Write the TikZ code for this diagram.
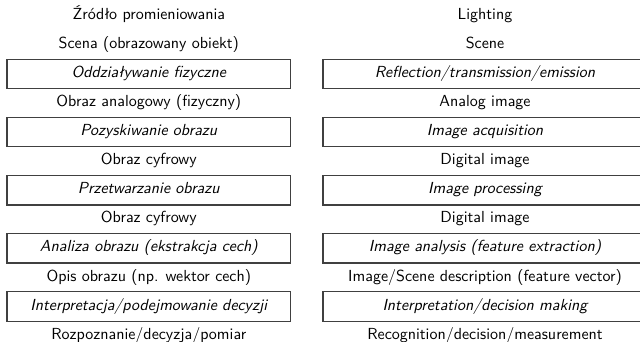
\documentclass[tikz,border=0pt]{standalone}
\usepackage{fontspec}
\begin{document}
\begin{tikzpicture}[x=0.625pt,y=-0.625pt,
  lbl/.style={font=\sffamily, inner sep=0pt, text height=0.7em, text depth=0.25em},
  procbox/.style={draw=black!75, line width=0.7pt, font=\sffamily\itshape, inner sep=0pt,
    minimum height=29.3*0.625pt, text height=0.7em, text depth=0.25em},
  lbox/.style={procbox, minimum width=283.6*0.625pt},
  rbox/.style={procbox, minimum width=324*0.625pt}]
\useasboundingbox (0,0) rectangle (640,342);
\clip (0,0) rectangle (640,342);
% left column
\node[lbl]  (l1)  at (148.8,16.0)  {Źródło promieniowania};
\node[lbl]  (l2)  at (148.8,45.05) {Scena (obrazowany obiekt)};
\node[lbox] (l3)  at (148.8,74.1)  {Oddziaływanie fizyczne};
\node[lbl]  (l4)  at (148.8,103.15){Obraz analogowy (fizyczny)};
\node[lbox] (l5)  at (148.8,132.2) {Pozyskiwanie obrazu};
\node[lbl]  (l6)  at (148.8,161.25){Obraz cyfrowy};
\node[lbox] (l7)  at (148.8,190.3) {Przetwarzanie obrazu};
\node[lbl]  (l8)  at (148.8,219.35){Obraz cyfrowy};
\node[lbox] (l9)  at (148.8,248.4) {Analiza obrazu (ekstrakcja cech)};
\node[lbl]  (l10) at (148.8,277.45){Opis obrazu (np. wektor cech)};
\node[lbox] (l11) at (148.8,306.5) {Interpretacja/podejmowanie decyzji};
\node[lbl]  (l12) at (148.8,335.55){Rozpoznanie/decyzja/pomiar};
% right column
\node[lbl]  (r1)  at (485,16.0)  {Lighting};
\node[lbl]  (r2)  at (485,45.05) {Scene};
\node[rbox] (r3)  at (485,74.1)  {Reflection/transmission/emission};
\node[lbl]  (r4)  at (485,103.15){Analog image};
\node[rbox] (r5)  at (485,132.2) {Image acquisition};
\node[lbl]  (r6)  at (485,161.25){Digital image};
\node[rbox] (r7)  at (485,190.3) {Image processing};
\node[lbl]  (r8)  at (485,219.35){Digital image};
\node[rbox] (r9)  at (485,248.4) {Image analysis (feature extraction)};
\node[lbl]  (r10) at (485,277.45){Image/Scene description (feature vector)};
\node[rbox] (r11) at (485,306.5) {Interpretation/decision making};
\node[lbl]  (r12) at (485,335.55){Recognition/decision/measurement};
\end{tikzpicture}
\end{document}
